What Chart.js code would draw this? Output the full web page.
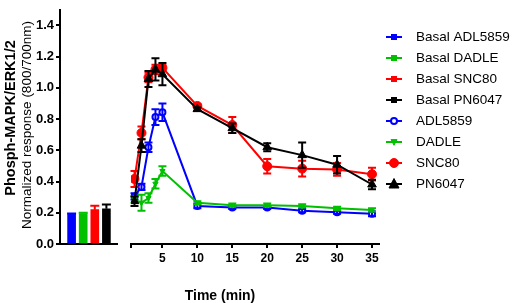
<!DOCTYPE html>
<html><head><meta charset="utf-8">
<script src="https://cdn.jsdelivr.net/npm/chart.js@4.4.1/dist/chart.umd.min.js"></script>
<style>
html,body{margin:0;padding:0;background:#fff;width:512px;height:303px;overflow:hidden;}
#wrap{position:relative;width:512px;height:303px;font-family:"Liberation Sans",Arial,sans-serif;color:#000;}
#c1{position:absolute;left:0;top:0;width:118px;height:303px;}
#c2{position:absolute;left:125px;top:0;width:387px;height:303px;}
.yt{position:absolute;white-space:nowrap;transform:translate(-50%,-50%) rotate(-90deg);}
</style></head><body>
<div id="wrap">
<canvas id="c1" width="118" height="303"></canvas>
<canvas id="c2" width="387" height="303"></canvas>
<div class="yt" style="left:10px;top:118px;font-weight:bold;font-size:14.5px;">Phosph-MAPK/ERK1/2</div>
<div class="yt" style="left:26px;top:125px;font-size:13.5px;">Normalized response (800/700nm)</div>
<div style="position:absolute;left:220px;top:295px;transform:translate(-50%,-50%);font-weight:bold;font-size:14px;white-space:nowrap;">Time (min)</div>
</div>
<script>
// ---- data ----
const basalLabels = ['Basal ADL5859', 'Basal DADLE', 'Basal SNC80', 'Basal PN6047'];
const basalMeans  = [0.19, 0.195, 0.22, 0.225];
const basalErr    = [0.005, 0.005, 0.025, 0.028];

const seriesLabels = ['ADL5859', 'DADLE', 'SNC80', 'PN6047'];
const times   = [1, 2, 3, 4, 5, 10, 15, 20, 25, 30, 35];
const adl5859 = [0.30, 0.36, 0.61, 0.80, 0.83, 0.24, 0.23, 0.23, 0.21, 0.20, 0.19];
const adlErr  = [0.02, 0.02, 0.03, 0.05, 0.055, 0.015, 0.01, 0.01, 0.01, 0.01, 0.015];
const dadle   = [0.28, 0.26, 0.29, 0.38, 0.46, 0.26, 0.245, 0.245, 0.24, 0.225, 0.215];
const dadleErr= [0.02, 0.05, 0.03, 0.03, 0.03, 0.01, 0.01, 0.01, 0.01, 0.01, 0.01];
const snc80   = [0.41, 0.70, 1.05, 1.10, 1.11, 0.87, 0.75, 0.49, 0.475, 0.47, 0.44];
const sncErr  = [0.05, 0.04, 0.03, 0.03, 0.02, 0.01, 0.05, 0.045, 0.05, 0.04, 0.04];
const pn6047  = [0.27, 0.62, 1.04, 1.10, 1.07, 0.85, 0.73, 0.61, 0.56, 0.50, 0.375];
const pnErr   = [0.03, 0.04, 0.05, 0.07, 0.07, 0.01, 0.03, 0.025, 0.08, 0.055, 0.03];

const yTickValues = [0, 0.2, 0.4, 0.6, 0.8, 1.0, 1.2, 1.4];
const xTickValues = [5, 10, 15, 20, 25, 30, 35];

// ---- styles ----
const colors = ['#0000ff', '#00c000', '#ff0000', '#000000'];
const FONT = '"Liberation Sans", Arial, sans-serif';
const Y_MIN = 0, Y_MAX = 1.5;

function drawMarker(ctx, style, x, y, r, fill, stroke, bw, rot) {
  ctx.save();
  ctx.fillStyle = fill; ctx.strokeStyle = stroke; ctx.lineWidth = bw;
  ctx.beginPath();
  if (style === 'circle') {
    ctx.arc(x, y, r, 0, Math.PI * 2);
  } else if (style === 'rect') {
    ctx.rect(x - r, y - r, 2 * r, 2 * r);
  } else if (style === 'triangle') {
    const s = rot ? -1 : 1;
    ctx.moveTo(x, y - s * r * 1.1);
    ctx.lineTo(x + r, y + s * r * 0.8);
    ctx.lineTo(x - r, y + s * r * 0.8);
    ctx.closePath();
  }
  ctx.fill();
  if (bw) ctx.stroke();
  ctx.restore();
}

// ---- bar chart (basal) ----
const barErrPlugin = {
  id: 'barErr',
  afterDatasetsDraw(chart) {
    const ctx = chart.ctx, ys = chart.scales.y;
    const meta = chart.getDatasetMeta(0);
    meta.data.forEach((bar, i) => {
      const top = ys.getPixelForValue(basalMeans[i] + basalErr[i]);
      const base = ys.getPixelForValue(basalMeans[i]);
      ctx.save();
      ctx.strokeStyle = colors[i]; ctx.lineWidth = 2;
      ctx.beginPath();
      ctx.moveTo(bar.x, base); ctx.lineTo(bar.x, top);
      ctx.moveTo(bar.x - 4.5, top); ctx.lineTo(bar.x + 4.5, top);
      ctx.stroke();
      ctx.restore();
    });
  }
};

new Chart(document.getElementById('c1'), {
  type: 'bar',
  data: {
    datasets: [{
      label: 'Basal',
      data: basalMeans.map((v, i) => ({ x: i + 1, y: v })),
      backgroundColor: colors,
      borderColor: colors,
      borderWidth: 0,
      barThickness: 8
    }]
  },
  options: {
    responsive: false,
    animation: false,
    events: [],
    layout: { padding: { top: 2, left: 0, right: 0, bottom: 0 } },
    plugins: { legend: { display: false }, tooltip: { enabled: false } },
    scales: {
      x: {
        type: 'linear', min: 0, max: 5, offset: false, bounds: 'ticks',
        grid: { display: false, offset: false },
        ticks: { display: false },
        border: { display: true, width: 2, color: '#000' },
        afterFit(s) { s.height = 59; }
      },
      y: {
        min: Y_MIN, max: Y_MAX,
        afterBuildTicks(s) { s.ticks = yTickValues.map(v => ({ value: v })); },
        ticks: {
          color: '#000', padding: 2,
          font: { family: FONT, size: 13, weight: 'bold' },
          callback: v => Number(v).toFixed(1)
        },
        grid: { drawOnChartArea: false, drawTicks: true, tickLength: 4, color: '#000', lineWidth: 2 },
        border: { display: true, width: 2, color: '#000' },
        afterFit(s) { s.width = 60; }
      }
    }
  },
  plugins: [barErrPlugin]
});

// ---- line chart (time course) ----
const seriesDefs = [
  { label: seriesLabels[0], values: adl5859, errors: adlErr,   color: colors[0], style: 'circle',   r: 3,   fill: '#ffffff', bw: 2, rot: 0 },
  { label: seriesLabels[1], values: dadle,   errors: dadleErr, color: colors[1], style: 'triangle', r: 3,   fill: colors[1], bw: 1, rot: 180 },
  { label: seriesLabels[2], values: snc80,   errors: sncErr,   color: colors[2], style: 'circle',   r: 4.5, fill: colors[2], bw: 1, rot: 0 },
  { label: seriesLabels[3], values: pn6047,  errors: pnErr,    color: colors[3], style: 'triangle', r: 5,   fill: colors[3], bw: 1, rot: 0 }
];

const errPlugin = {
  id: 'lineErr',
  afterDatasetDraw(chart, args) {
    const ds = chart.data.datasets[args.index];
    if (!ds.errors) return;
    const ctx = chart.ctx, ys = chart.scales.y;
    ctx.save();
    ctx.strokeStyle = ds.borderColor; ctx.lineWidth = 2;
    args.meta.data.forEach((pt, i) => {
      const v = ds.data[i].y, e = ds.errors[i];
      const t = ys.getPixelForValue(v + e), b = ys.getPixelForValue(v - e);
      ctx.beginPath();
      ctx.moveTo(pt.x, t); ctx.lineTo(pt.x, b);
      ctx.moveTo(pt.x - 4, t); ctx.lineTo(pt.x + 4, t);
      ctx.moveTo(pt.x - 4, b); ctx.lineTo(pt.x + 4, b);
      ctx.stroke();
    });
    ctx.restore();
  }
};

const legendPlugin = {
  id: 'customLegend',
  afterDraw(chart) {
    const ctx = chart.ctx;
    const x0 = 261, x1 = 277, xm = 269, xt = 291;
    const items = basalLabels.map((l, i) => ({ label: l, color: colors[i], style: 'rect', r: 3, fill: colors[i], bw: 0, rot: 0 }))
      .concat(seriesDefs.map(s => ({ label: s.label, color: s.color, style: s.style, r: s.r, fill: s.fill, bw: s.bw, rot: s.rot })));
    ctx.save();
    ctx.font = '13.5px ' + FONT;
    ctx.textBaseline = 'middle';
    ctx.textAlign = 'left';
    items.forEach((it, i) => {
      const y = 37 + 21 * i;
      ctx.strokeStyle = it.color; ctx.lineWidth = 2;
      ctx.beginPath(); ctx.moveTo(x0, y); ctx.lineTo(x1, y); ctx.stroke();
      drawMarker(ctx, it.style, xm, y, it.r, it.fill, it.color, it.bw || 0, it.rot);
      ctx.fillStyle = '#000';
      ctx.fillText(it.label, xt, y + 0.5);
    });
    ctx.restore();
  }
};

new Chart(document.getElementById('c2'), {
  type: 'line',
  data: {
    datasets: seriesDefs.map((s, k) => ({
      label: s.label,
      data: times.map((t, i) => ({ x: t, y: s.values[i] })),
      errors: s.errors,
      borderColor: s.color,
      backgroundColor: s.fill,
      borderWidth: 2,
      tension: 0,
      fill: false,
      pointStyle: s.style,
      pointRadius: s.r,
      pointRotation: s.rot,
      pointBackgroundColor: s.fill,
      pointBorderColor: s.color,
      pointBorderWidth: s.bw,
      order: seriesDefs.length - k
    }))
  },
  options: {
    responsive: false,
    animation: false,
    events: [],
    layout: { padding: { top: 2, left: 6, right: 133, bottom: 0 } },
    plugins: { legend: { display: false }, tooltip: { enabled: false } },
    scales: {
      x: {
        type: 'linear', min: 0.5, max: 36,
        afterBuildTicks(s) { s.ticks = [0.5].concat(xTickValues).map(v => ({ value: v })); },
        ticks: {
          color: '#000', padding: 3, maxRotation: 0, autoSkip: false,
          font: { family: FONT, size: 12, weight: 'bold' },
          callback: v => (v === 0.5 ? '' : String(v))
        },
        grid: { drawOnChartArea: false, drawTicks: true, tickLength: 4, color: '#000', lineWidth: 2 },
        border: { display: true, width: 2, color: '#000' },
        afterFit(s) { s.height = 59; }
      },
      y: { display: false, min: Y_MIN, max: Y_MAX }
    }
  },
  plugins: [errPlugin, legendPlugin]
});
</script>
</body></html>
